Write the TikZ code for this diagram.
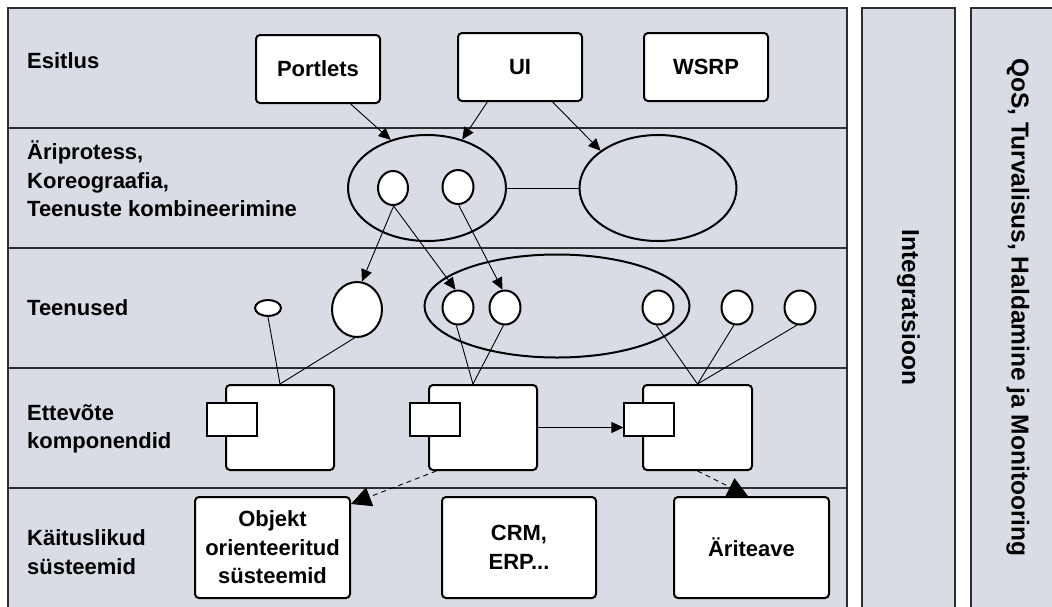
\documentclass[tikz,border=0pt]{standalone}
\usepackage{fontspec}
\setmainfont{Liberation Sans}
\usetikzlibrary{arrows.meta,shapes.geometric}
\definecolor{panelfill}{RGB}{218,220,229}
\definecolor{edge}{RGB}{45,45,45}

\begin{document}
\begin{tikzpicture}[x=1pt,y=-1pt,
  lbl/.style={font=\bfseries\fontsize{22}{28.6}\selectfont, align=left, anchor=west, inner sep=0},
  box/.style={draw=black, line width=2pt, fill=white, rounded corners=4pt,
    font=\bfseries\fontsize{22}{28.6}\selectfont, align=center, inner sep=0},
  topbox/.style={box, minimum width=124pt, minimum height=68pt},
  sysbox/.style={box, minimum width=155pt, minimum height=101pt},
  comp/.style={draw=black, line width=2pt, fill=white, rounded corners=4pt,
    inner sep=0, minimum width=108pt, minimum height=85pt},
  port/.style={draw=black, line width=1.2pt, fill=white, inner sep=0,
    minimum width=50pt, minimum height=33pt},
  proc/.style={draw=black, line width=2pt, ellipse, inner sep=0},
  svc/.style={draw=black, line width=2pt, fill=white, ellipse, inner sep=0,
    minimum width=31pt, minimum height=34pt},
  link/.style={draw=black, line width=0.9pt},
  flow/.style={link, -{Triangle[length=12pt,width=11pt]}},
  dep/.style={link, dash pattern=on 5pt off 4pt, -{Triangle[length=20pt,width=20pt]}},
  side/.style={draw=edge, line width=1.5pt, fill=panelfill},
  vtext/.style={rotate=-90, font=\bfseries\fontsize{24.5}{29}\selectfont, inner sep=0}
]
\useasboundingbox (0,0) rectangle (1052,606);
\clip (0,0) rectangle (1052,606);

% layer panels
\path[side] (8,8) rectangle (847,616);
\foreach \yy in {128,248,368,488}
  \draw[edge, line width=1.3pt] (8,\yy) -- (847,\yy);
\path[side] (862,8) rectangle (955,616);
\path[side] (971,8) rectangle (1062,616);

% vertical cross-cutting concerns
\node[vtext] (integ) at (908.5,307.5) {Integratsioon};
\node[vtext] (qos) at (1018,307.5) {QoS, Turvalisus, Haldamine ja Monitooring};

% layer names
\node[lbl] (l1) at (27,61) {Esitlus};
\node[lbl] (l2) at (27,179) {Äriprotess,\\Koreograafia,\\Teenuste kombineerimine};
\node[lbl] (l3) at (27,308) {Teenused};
\node[lbl] (l4) at (27,429) {Ettevõte\\komponendid};
\node[lbl] (l5) at (27,552) {Käituslikud\\süsteemid};

% presentation
\node[topbox] (portlets) at (318,69) {Portlets};
\node[topbox] (ui) at (520,67) {UI};
\node[topbox] (wsrp) at (706,67) {WSRP};

% business processes
\node[proc, minimum width=158pt, minimum height=106pt] (procA) at (427,188) {};
\node[proc, minimum width=157pt, minimum height=106pt] (procB) at (658,188) {};
\node[svc, minimum width=30pt] (c1) at (393,188) {};
\node[svc] (c2) at (458,187) {};

% services
\node[proc, minimum width=265pt, minimum height=103pt] (group) at (557,306) {};
\node[svc, minimum width=26pt, minimum height=16pt] (s0) at (268,308) {};
\node[svc, minimum width=50pt, minimum height=55pt] (s1) at (357,309.5) {};
\node[svc] (s2) at (458,307.5) {};
\node[svc] (s3) at (505,307.5) {};
\node[svc] (s4) at (658,307.5) {};
\node[svc] (s5) at (737,307.5) {};
\node[svc] (s6) at (800,307.5) {};

% enterprise components
\node[comp] (comp1) at (280,427.5) {};
\node[port] (port1) at (232,419.5) {};
\node[comp] (comp2) at (483,427.5) {};
\node[port] (port2) at (435,419.5) {};
\node[comp, minimum width=109pt] (comp3) at (697.5,427.5) {};
\node[port] (port3) at (649,419.5) {};

% operational systems
\node[sysbox] (obj) at (272.5,547.5) {Objekt\\orienteeritud\\süsteemid};
\node[sysbox, minimum width=154pt] (crm) at (519,547.5) {CRM,\\ERP...};
\node[sysbox] (ari) at (751.5,547.5) {Äriteave};

% connectors
\draw[flow] (portlets.-47) -- (procA.127);
\draw[flow] (ui.-133) -- (procA.54);
\draw[flow] (ui.-47) -- (procB.147);
\draw[link] (procA.east) -- (procB.west);

\draw[flow] (c1.-88) -- (s1.80);
\draw[flow] (c1.-88) -- (s2.98);
\draw[flow] (c2.-88) -- (s3.98);

\draw[link] (s0.south) -- (comp1.north);
\draw[link] (s1.-95) -- (comp1.north);
\draw[link] (s2.-95) -- (comp2.103);
\draw[link] (s3.-95) -- (comp2.103);
\draw[link] (s4.-95) -- (comp3.north);
\draw[link] (s5.-100) -- (comp3.north);
\draw[link] (s6.-100) -- (comp3.north);

\draw[flow] (comp2.east) -- (port3.west |- comp2.east);
\draw[dep] (comp2.-137) -- (obj.29);
\draw[dep] (comp3.south) -- (ari.94);
\end{tikzpicture}
\end{document}
